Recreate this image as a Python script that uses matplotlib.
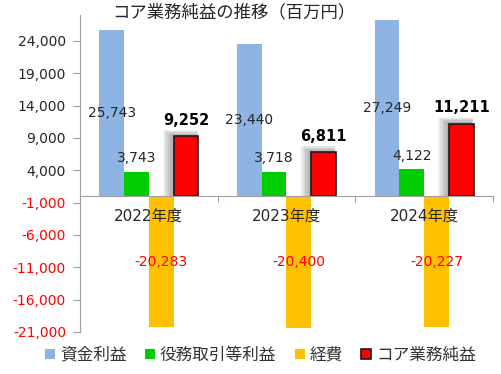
import numpy as np
import matplotlib
matplotlib.use('Agg')
import matplotlib.pyplot as plt

plt.rcParams['font.family'] = ['DejaVu Sans', 'Noto Sans CJK JP']
JP = ['Noto Sans CJK JP', 'DejaVu Sans']

# data
years = ['2022年度', '2023年度', '2024年度']
shikin = [25743, 23440, 27249]
ekimu = [3743, 3718, 4122]
keihi = [-20283, -20400, -20227]
core = [9252, 6811, 11211]
series_names = ['資金利益', '役務取引等利益', '経費', 'コア業務純益']
yticks = [-21000, -16000, -11000, -6000, -1000, 4000, 9000, 14000, 19000, 24000]

c_blue = '#8EB4E3'
c_green = '#00CC00'
c_orange = '#FFC000'
c_red = '#FF0000'
c_text = '#262626'

fig = plt.figure(figsize=(5.01, 3.74), dpi=100)
ax = fig.add_axes([0.1597, 0.1123, 0.8243, 0.8477])

x = np.arange(len(years))
w = 0.18
offs = [-1.5 * w, -0.5 * w, 0.5 * w, 1.5 * w]

b1 = ax.bar(x + offs[0], shikin, w, color=c_blue, label=series_names[0])
b2 = ax.bar(x + offs[1], ekimu, w, color=c_green, label=series_names[1])
b3 = ax.bar(x + offs[2], keihi, w, color=c_orange, label=series_names[2])

# fake blurred shadow behind red bars
for k in range(8):
    ax.bar(x + offs[3] - 0.014 - 0.004 * k, np.array(core) + 200 + 110 * k, w + 0.011 * k,
           color='black', alpha=0.045, linewidth=0, zorder=1.5)
b4 = ax.bar(x + offs[3], core, w, color=c_red, edgecolor='#1a1a1a', linewidth=1.2,
            label=series_names[3], zorder=3)

for i in range(len(years)):
    ax.text(x[i] + offs[0], shikin[i] / 2, f'{shikin[i]:,}', ha='center', va='center',
            fontsize=10, color=c_text, zorder=5)
    ax.annotate(f'{ekimu[i]:,}', (x[i] + offs[1], ekimu[i]), xytext=(0, 5),
                textcoords='offset points', ha='center', va='bottom', fontsize=10,
                color=c_text, zorder=5)
    ax.text(x[i] + offs[2], keihi[i] / 2, f'{keihi[i]:,}', ha='center', va='center',
            fontsize=10, color=c_red, zorder=5)
    ax.annotate(f'{core[i]:,}', (x[i] + offs[3], core[i]), xytext=(0, 6),
                textcoords='offset points', ha='center', va='bottom', fontsize=10.5,
                fontweight='bold', color='black', zorder=5)
    ax.annotate(years[i], (x[i], 0), xytext=(0, -9), textcoords='offset points',
                ha='center', va='top', fontsize=11, color=c_text, zorder=5)

ax.set_xlim(-0.5, 2.5)
ax.set_ylim(-21000, 28000)
ax.set_yticks(yticks)
ax.set_yticklabels([f'{v:,}' for v in yticks], fontsize=10)
for lbl, v in zip(ax.get_yticklabels(), yticks):
    lbl.set_color(c_red if v < 0 else c_text)

ax.set_xticks([-0.5, 0.5, 1.5, 2.5])
ax.set_xticklabels([])
ax.tick_params(axis='x', length=4, color='#A0A0A0', direction='out')
ax.tick_params(axis='y', length=5, color='#A0A0A0', pad=5)

ax.spines['top'].set_visible(False)
ax.spines['right'].set_visible(False)
ax.spines['bottom'].set_position(('data', 0))
ax.spines['bottom'].set_color('#A0A0A0')
ax.spines['left'].set_color('#A0A0A0')
ax.spines['bottom'].set_zorder(4)

fig.text(0.467, 0.968, 'コア業務純益の推移（百万円）', ha='center', va='center',
         fontsize=12.5, color=c_text, family=JP)

handles = [b1, b2, b3, b4]
leg = fig.legend(handles, series_names, loc='center', bbox_to_anchor=(0.52, 0.05),
                 ncol=4, frameon=False, handlelength=0.6, handleheight=0.6,
                 handletextpad=0.3, columnspacing=1.1, prop={'family': JP, 'size': 12})
for t in leg.get_texts():
    t.set_color('#333333')

fig.savefig('out.png', dpi=100)
